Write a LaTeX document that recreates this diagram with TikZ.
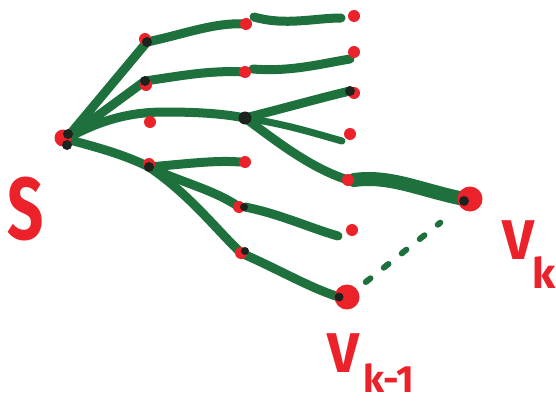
\documentclass[tikz,border=0pt]{standalone}
\usepackage{fontspec}
\setmainfont{Fira Sans}
\definecolor{inkgreen}{RGB}{30,112,60}
\definecolor{inkred}{RGB}{236,34,42}
\definecolor{inkblack}{RGB}{28,34,30}
\begin{document}
\begin{tikzpicture}[x=1pt,y=-1pt,
  branch/.style={draw=inkgreen,line width=9pt,line cap=round,line join=round},
  thinbranch/.style={branch,line width=7pt},
  trunk/.style={branch,line width=14pt},
  reddot/.style={circle,fill=inkred,inner sep=0pt,minimum size=12pt},
  bigdot/.style={circle,fill=inkred,inner sep=0pt,minimum size=25pt},
  joint/.style={circle,fill=inkblack,inner sep=0pt,minimum size=10pt},
  lbl/.style={text=inkred,inner sep=0pt,font=\bfseries}]
\fill[white] (0,0) rectangle (556,401);
\useasboundingbox (0,0) rectangle (556,401);

% branching points and end points of the tree
\coordinate (s)   at (66,139);
\coordinate (a1)  at (147,42);
\coordinate (a2)  at (145,81);
\coordinate (b)   at (245,118);
\coordinate (c)   at (149,167);
\coordinate (u)   at (350,91);
\coordinate (r1)  at (246,24);
\coordinate (r2)  at (245,72);
\coordinate (r4)  at (240,162);
\coordinate (r5)  at (348,180);
\coordinate (r6)  at (239,207);
\coordinate (r7)  at (241,253);
\coordinate (e1)  at (341,18);
\coordinate (e2)  at (350,59);
\coordinate (e4)  at (342,141);
\coordinate (e6)  at (338,236);
\coordinate (vk)  at (470,199);
\coordinate (vkm) at (347,297);

% green edges
\draw[branch] (s) -- (a1);
\draw[branch] (a1) .. controls (185,34) and (215,22) .. (r1);
\draw[branch] ([xshift=8pt,yshift=7pt]r1) .. controls (285,26) and (315,18) .. (e1);
\draw[branch] (s) -- (a2);
\draw[branch] (a2) .. controls (180,76) and (210,70) .. (r2);
\draw[branch] ([xshift=8pt,yshift=3pt]r2) .. controls (290,72) and (320,64) .. (e2);
\draw[branch] (s) .. controls (100,120) and (130,112) .. (165,112)
                  .. controls (200,112) and (225,114) .. (b);
\draw[branch] (b) .. controls (285,108) and (320,98) .. (u);
\draw[thinbranch] (b) .. controls (285,124) and (310,132) .. (e4);
\draw[branch] (b) .. controls (275,140) and (310,168) .. (r5);
\draw[trunk] ([xshift=6pt]r5) .. controls (390,175) and (420,190) .. ([xshift=-6pt]vk);
\draw[branch] (s) .. controls (100,148) and (125,155) .. (c);
\draw[branch] (c) .. controls (185,164) and (215,160) .. (r4);
\draw[branch] (c) .. controls (180,182) and (215,190) .. (r6);
\draw[branch] ([xshift=6pt]r6) .. controls (280,214) and (310,228) .. (e6);
\draw[branch] (c) .. controls (190,195) and (215,228) .. (r7);
\draw[branch] (r7) .. controls (280,270) and (310,288) .. ([xshift=-8pt]vkm);
\draw[draw=inkgreen,line width=6pt,line cap=round,dash pattern=on 6pt off 17pt,
      shorten <=24pt,shorten >=38pt] (vkm) -- (vk);

% red marks
\node[reddot,minimum size=17pt] (S) at (63,138) {};
\node[reddot] (n1) at (r1) {};
\node[reddot] (n2) at (r2) {};
\node[reddot] (n3) at (150,122) {};
\node[reddot] (n4) at ([xshift=5pt]r4) {};
\node[reddot] (n5) at (r5) {};
\node[reddot] (n6) at (r6) {};
\node[reddot] (n7) at (r7) {};
\node[reddot] (d1) at (354,16) {};
\node[reddot] (d2) at (354,52) {};
\node[reddot] (d4) at (350,134) {};
\node[reddot] (d6) at (352,230) {};
\node[reddot] (du) at (354,93) {};
\node[reddot] (da1) at (145,39) {};
\node[reddot] (da2) at (146,85) {};
\node[reddot] (dc) at (149,164) {};
\node[bigdot] (Vk) at (vk) {};
\node[bigdot] (Vkm) at (vkm) {};

% black marker dots where the edges meet
\node[joint] at (68,134) {};
\node[joint] at (67,145) {};
\node[joint] at (a1) {};
\node[joint] at (a2) {};
\node[joint,minimum size=13pt] at (b) {};
\node[joint] at (c) {};
\node[joint] at (u) {};
\node[joint,minimum size=8pt] at ([xshift=5pt]r6) {};
\node[joint,minimum size=8pt] at ([xshift=4pt,yshift=2pt]r7) {};
\node[joint,minimum size=9pt] at ([xshift=-8pt]vkm) {};
\node[joint,minimum size=10pt] at ([xshift=-6pt,yshift=-2pt]vk) {};

% labels
\node[lbl,font=\bfseries\fontsize{88}{88}\selectfont] (ls) at (26,209) {\scalebox{0.72}[1]{S}};
\node[lbl,font=\bfseries\fontsize{56}{56}\selectfont] (lvk) at (518,240) {V};
\node[lbl,font=\bfseries\fontsize{42}{42}\selectfont] (lk) at (544,273) {k};
\node[lbl,font=\bfseries\fontsize{56}{56}\selectfont] (lvkm) at (343,353) {V};
\node[lbl,font=\bfseries\fontsize{38}{38}\selectfont] (lkm) at (389,378) {k-1};
\end{tikzpicture}
\end{document}
